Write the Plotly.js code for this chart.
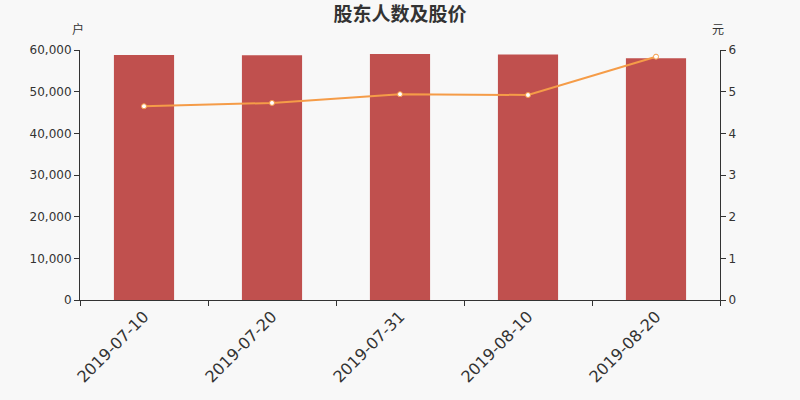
<!DOCTYPE html>
<html>
<head>
<meta charset="utf-8">
<script src="https://cdn.plot.ly/plotly-3.0.1.min.js"></script>
<style>
  body { margin: 0; background: #f8f8f8; }
  #chart { width: 800px; height: 400px; }
</style>
</head>
<body>
<div id="chart"></div>
<script>
const dates = ['2019-07-10', '2019-07-20', '2019-07-31', '2019-08-10', '2019-08-20'];
const holders = [58800, 58750, 59050, 58950, 58050];
const prices = [4.65, 4.73, 4.94, 4.92, 5.84];

const font = 'DejaVu Sans, Noto Sans CJK SC, sans-serif';
const cjk = 'Noto Sans CJK SC, sans-serif';

var barTrace = {
    x: dates,
    y: holders,
    type: 'bar',
    name: '股东人数',
    marker: { color: '#c0504e' },
    width: 0.47,
    hoverinfo: 'x+y'
};

var lineTrace = {
    x: dates,
    y: prices,
    type: 'scatter',
    mode: 'lines+markers',
    name: '股价',
    yaxis: 'y2',
    line: { color: '#f59c48', width: 2 },
    marker: { color: '#ffffff', size: 5, line: { color: '#f59c48', width: 1 } }
};

var layout = {
    width: 800,
    height: 400,
    paper_bgcolor: '#f8f8f8',
    plot_bgcolor: '#f8f8f8',
    showlegend: false,
    margin: { l: 80, r: 80, t: 50, b: 100 },
    font: { family: font, color: '#333333' },
    title: {
        text: '<b>股东人数及股价</b>',
        font: { family: cjk, size: 19, color: '#333333' },
        x: 0.5,
        xanchor: 'center',
        y: 0.965,
        yanchor: 'middle'
    },
    xaxis: {
        type: 'category',
        tickangle: -45,
        tickfont: { family: font, size: 16, color: '#333333' },
        ticks: 'outside',
        tickson: 'boundaries',
        ticklen: 5,
        tickcolor: '#333333',
        showline: true,
        linecolor: '#333333',
        showgrid: false,
        zeroline: false
    },
    yaxis: {
        range: [0, 60000],
        tickvals: [0, 10000, 20000, 30000, 40000, 50000, 60000],
        ticktext: ['0', '10,000', '20,000', '30,000', '40,000', '50,000', '60,000'],
        tickfont: { family: font, size: 12, color: '#333333' },
        ticks: 'outside',
        ticklen: 5,
        tickcolor: '#333333',
        showline: true,
        linecolor: '#333333',
        showgrid: false,
        zeroline: false
    },
    yaxis2: {
        overlaying: 'y',
        side: 'right',
        range: [0, 6],
        tickvals: [0, 1, 2, 3, 4, 5, 6],
        tickfont: { family: font, size: 12, color: '#333333' },
        ticks: 'outside',
        ticklen: 5,
        tickcolor: '#333333',
        showline: true,
        linecolor: '#333333',
        showgrid: false,
        zeroline: false
    },
    annotations: [
        { text: '户', xref: 'paper', yref: 'paper', x: 0, y: 1, xshift: -2, yshift: 22,
          showarrow: false, xanchor: 'center', yanchor: 'middle', font: { family: cjk, size: 12, color: '#333333' } },
        { text: '元', xref: 'paper', yref: 'paper', x: 1, y: 1, xshift: -2, yshift: 22,
          showarrow: false, xanchor: 'center', yanchor: 'middle', font: { family: cjk, size: 12, color: '#333333' } }
    ]
};

Plotly.newPlot('chart', [barTrace, lineTrace], layout, { displayModeBar: false });
</script>
</body>
</html>
